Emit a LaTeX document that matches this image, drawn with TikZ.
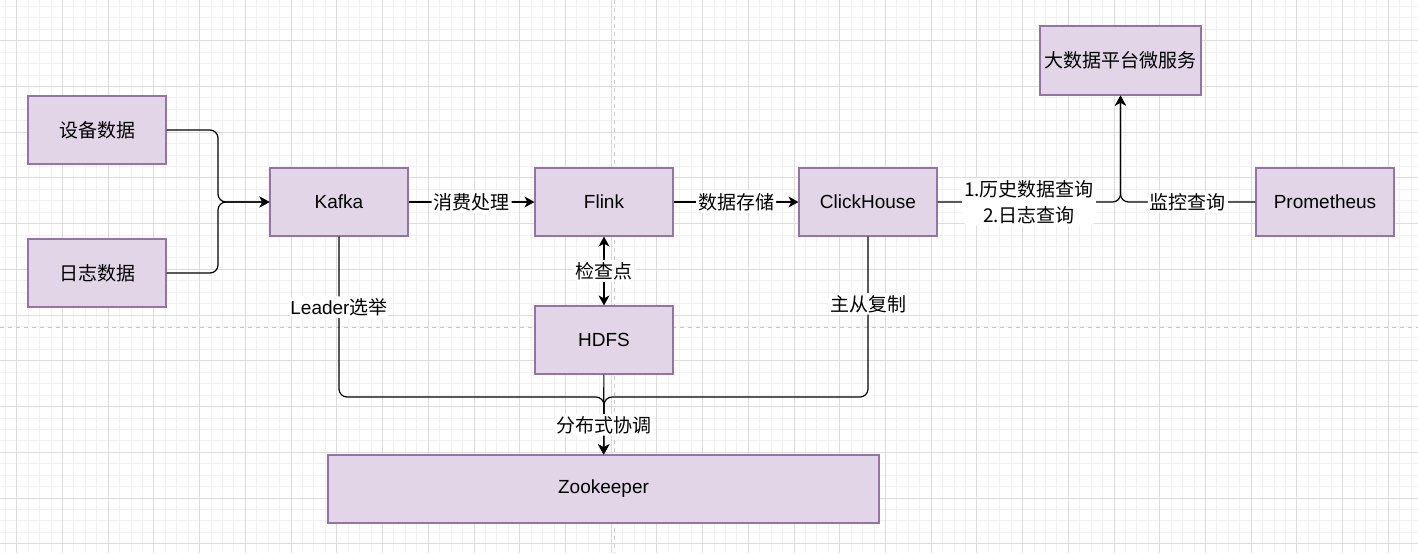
\documentclass[tikz,border=0pt]{standalone}
\usepackage{fontspec}
\setmainfont{Liberation Sans}
\newfontfamily\cjk{Noto Sans CJK SC}
\usetikzlibrary{arrows.meta,positioning}
\definecolor{boxfill}{HTML}{E1D5E7}
\definecolor{boxline}{HTML}{9673A6}
\definecolor{gridminor}{HTML}{F1F1F1}
\definecolor{gridmajor}{HTML}{DCDCDC}
\definecolor{pageline}{HTML}{C6C6C6}

\begin{document}
\begin{tikzpicture}[x=0.5pt, y=-0.5pt, font=\fontsize{9.5}{13}\selectfont]
\tikzstyle{blk}=[rectangle, draw=boxline, fill=boxfill, line width=0.6pt,
                 minimum width=69pt, minimum height=34pt, inner sep=0pt]
\tikzstyle{lbl}=[inner sep=1pt, fill=white, align=center]
\tikzstyle{arr}=[-{Stealth[length=5pt,width=5.5pt,inset=1.5pt]}, line width=0.6pt, rounded corners=4pt]
\useasboundingbox (0,0) rectangle (1418,553);
\fill[white] (0,0) rectangle (1418,553);
% background grid
\foreach \i in {0,...,124} {\draw[gridminor, line width=0.4pt] ({5.27+11.43*\i},0) -- ++(0,553);}
\foreach \i in {0,...,48} {\draw[gridminor, line width=0.4pt] (0,{6.41+11.43*\i}) -- ++(1418,0);}
\foreach \i in {0,...,30} {\draw[gridmajor, line width=0.4pt] ({16.7+45.72*\i},0) -- ++(0,553);}
\foreach \i in {0,...,11} {\draw[gridmajor, line width=0.4pt] (0,{40.7+45.72*\i}) -- ++(1418,0);}
\draw[pageline, line width=0.5pt, dash pattern=on 2pt off 2pt] (614.5,0) -- (614.5,553);
\draw[pageline, line width=0.5pt, dash pattern=on 2pt off 2pt] (0,327.3) -- (1418,327.3);
% nodes
\node[blk] (dev) at (97,130) {\cjk 设备数据};
\node[blk] (log) at (97,273) {\cjk 日志数据};
\node[blk] (kafka) at (339,202) {Kafka};
\node[blk] (flink) at (604,202) {Flink};
\node[blk] (ch) at (868,202) {ClickHouse};
\node[blk] (prom) at (1325,202) {Prometheus};
\node[blk, minimum width=80.5pt, minimum height=34.5pt] (bdp) at (1120.5,60.5) {\cjk 大数据平台微服务};
\node[blk] (hdfs) at (604,340) {HDFS};
\node[blk, minimum width=275.5pt] (zk) at (603.5,489) {Zookeeper};
\coordinate (merge) at (218,202);
\coordinate (bus) at (604,397);
% edges
\foreach \i in {dev,log} {\draw[arr] (\i) -| (merge) -- (kafka);}
\foreach \i/\j/\k in {kafka/flink/消费处理,flink/ch/数据存储} {\draw[arr] (\i) -- node[lbl]{\cjk \k} (\j);}
\draw[arr, {Stealth[length=5pt,width=5.5pt,inset=1.5pt]}-{Stealth[length=5pt,width=5.5pt,inset=1.5pt]}] (flink) -- node[lbl]{\cjk 检查点} (hdfs);
\draw[arr] (ch) -| node[lbl, pos=0.25]{\cjk 1.历史数据查询\\\cjk 2.日志查询} (bdp);
\draw[arr] (prom) -| node[lbl, pos=0.25]{\cjk 监控查询} (bdp);
\draw[arr] (kafka) |- node[lbl, pos=0.22]{Leader{\cjk 选举}} (bus) -- (zk);
\draw[arr] (ch) |- node[lbl, pos=0.21]{\cjk 主从复制} (bus) -- (zk);
\draw[arr] (hdfs) -- node[lbl, pos=0.63]{\cjk 分布式协调} (zk);
\end{tikzpicture}
\end{document}
